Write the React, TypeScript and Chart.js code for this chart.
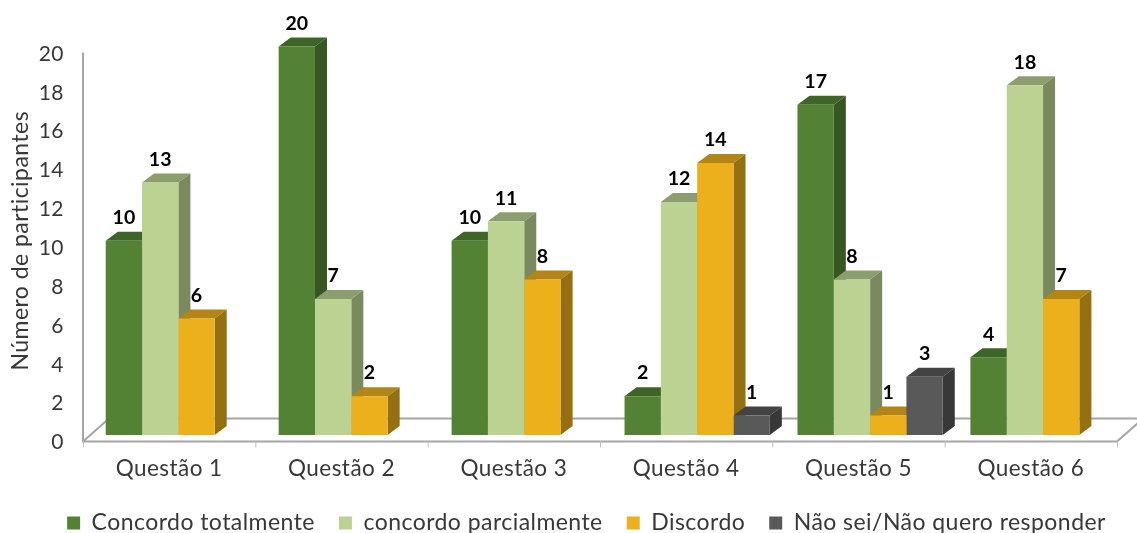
import React, { useEffect, useRef } from "react";
import { Chart, registerables } from "chart.js";

Chart.register(...registerables);

const categories = ["Questão 1", "Questão 2", "Questão 3", "Questão 4", "Questão 5", "Questão 6"];
const concordoTotalmente = [10, 20, 10, 2, 17, 4];
const concordoParcialmente = [13, 7, 11, 12, 8, 18];
const discordo = [6, 2, 8, 14, 1, 7];
const naoSei = [null, null, null, 1, 3, null];
const yTitle = "Número de participantes";
const FONT = "Lato";
const TEXT = "#383838";
const SPACING = "0.45px";

const faces = [
  { front: "#548235", top: "#3f6428", side: "#375623" },
  { front: "#bcd292", top: "#8d9e6e", side: "#7a8a5e" },
  { front: "#ecb01c", top: "#b38516", side: "#947012" },
  { front: "#595959", top: "#434343", side: "#383838" },
];

const DX = 12;
const DY = 9;
const LEGEND_PAD = 24;

const bars3d = {
  id: "bars3d",
  beforeUpdate(chart: any) {
    chart.ctx.letterSpacing = SPACING;
  },
  afterLayout(chart: any) {
    chart.legend.top += 11.5;
    chart.legend.bottom += 11.5;
    chart.legend.left += 28;
    chart.legend.right += 28;
    chart.scales.x.bottom = chart.scales.x.top + 60;
  },
  beforeDatasetsDraw(chart: any) {
    const { ctx, scales } = chart;
    const x = scales.x;
    const y = scales.y;
    const floorY = y.getPixelForValue(0) + 6.5;
    const topY = y.getPixelForValue(20) + 6;
    ctx.save();
    ctx.strokeStyle = "#a6a6a6";
    ctx.lineWidth = 2;
    ctx.beginPath();
    ctx.moveTo(x.left, topY);
    ctx.lineTo(x.left, floorY);
    ctx.lineTo(x.right, floorY);
    ctx.lineTo(x.right + 26, floorY - 23);
    ctx.lineTo(x.left + 26, floorY - 23);
    ctx.lineTo(x.left, floorY);
    ctx.stroke();
    ctx.lineWidth = 1;
    ctx.strokeStyle = "#bfbfbf";
    ctx.beginPath();
    for (let i = 0; i <= categories.length; i++) {
      const px = x.left + (i * (x.right - x.left)) / categories.length;
      ctx.moveTo(px + 0.5, floorY);
      ctx.lineTo(px + 0.5, floorY + 6);
    }
    ctx.stroke();
    ctx.restore();

    // group offset of the original, applied to the whole bar layer
    ctx.save();
    ctx.translate(8.6, 0);
    ctx.scale(1.0035, 1);
    for (let j = 0; j < categories.length; j++) {
      chart.data.datasets.forEach((ds: any, i: number) => {
        if (ds.data[j] == null) return;
        const b = chart.getDatasetMeta(i).data[j];
        const l = b.x - b.width / 2;
        const r = b.x + b.width / 2;
        ctx.fillStyle = faces[i].top;
        ctx.beginPath();
        ctx.moveTo(l, b.y);
        ctx.lineTo(l + DX, b.y - DY);
        ctx.lineTo(r + DX, b.y - DY);
        ctx.lineTo(r, b.y);
        ctx.closePath();
        ctx.fill();
        ctx.fillStyle = faces[i].side;
        ctx.beginPath();
        ctx.moveTo(r, b.y);
        ctx.lineTo(r + DX, b.y - DY);
        ctx.lineTo(r + DX, b.base - DY);
        ctx.lineTo(r, b.base);
        ctx.closePath();
        ctx.fill();
      });
    }
  },
  afterDatasetsDraw(chart: any) {
    const { ctx } = chart;
    ctx.letterSpacing = "0px";
    ctx.font = `bold 19.5px ${FONT}`;
    ctx.fillStyle = "#000000";
    ctx.textAlign = "center";
    ctx.textBaseline = "middle";
    chart.data.datasets.forEach((ds: any, i: number) => {
      ds.data.forEach((v: number | null, j: number) => {
        if (v == null) return;
        const b = chart.getDatasetMeta(i).data[j];
        ctx.fillText(String(v), b.x, b.y - 23);
      });
    });
    ctx.restore();
    ctx.letterSpacing = SPACING;
  },
};

export default function App() {
  const ref = useRef<HTMLCanvasElement>(null);
  useEffect(() => {
    const chart = new Chart(ref.current!, {
      type: "bar",
      data: {
        labels: categories,
        datasets: [
          { label: "Concordo totalmente", data: concordoTotalmente, backgroundColor: faces[0].front },
          { label: "concordo parcialmente", data: concordoParcialmente, backgroundColor: faces[1].front },
          { label: "Discordo", data: discordo, backgroundColor: faces[2].front },
          { label: "Não sei/Não quero responder", data: naoSei, backgroundColor: faces[3].front },
        ],
      },
      options: {
        responsive: false,
        animation: false,
        layout: { padding: { top: 46.5, right: 20, left: 0, bottom: 0 } },
        datasets: { bar: { barPercentage: 1, categoryPercentage: 0.84, clip: false } as any },
        plugins: {
          tooltip: { enabled: false },
          legend: {
            position: "bottom",
            labels: {
              boxWidth: 13,
              boxHeight: 13,
              padding: LEGEND_PAD,
              color: TEXT,
              font: { family: FONT, size: 23 },
            },
          },
        },
        scales: {
          x: {
            grid: { display: false, drawTicks: false },
            border: { display: false },
            afterFit: (s: any) => {
              s.height = 98 - (LEGEND_PAD + 33);
            },
            ticks: {
              color: TEXT,
              padding: 20,
              maxRotation: 0,
              autoSkip: false,
              font: { family: FONT, size: 22.5 },
            },
          },
          y: {
            min: 0,
            max: 20,
            grid: { display: false, drawTicks: false },
            border: { display: false },
            afterFit: (s: any) => {
              s.width = 83;
            },
            title: {
              display: true,
              text: yTitle,
              color: TEXT,
              font: { family: FONT, size: 23 },
              padding: { top: 7, bottom: 0 },
            },
            ticks: {
              stepSize: 2,
              color: TEXT,
              padding: 19,
              labelOffset: 7.5,
              font: { family: FONT, size: 21 },
            },
          },
        },
      },
      plugins: [bars3d],
    } as any);
    return () => chart.destroy();
  }, []);
  return (
    <div style={{ position: "absolute", left: 0, top: 0, width: 1137, height: 533, background: "#fff" }}>
      <canvas ref={ref} width={1137} height={533} style={{ display: "block" }} />
    </div>
  );
}
